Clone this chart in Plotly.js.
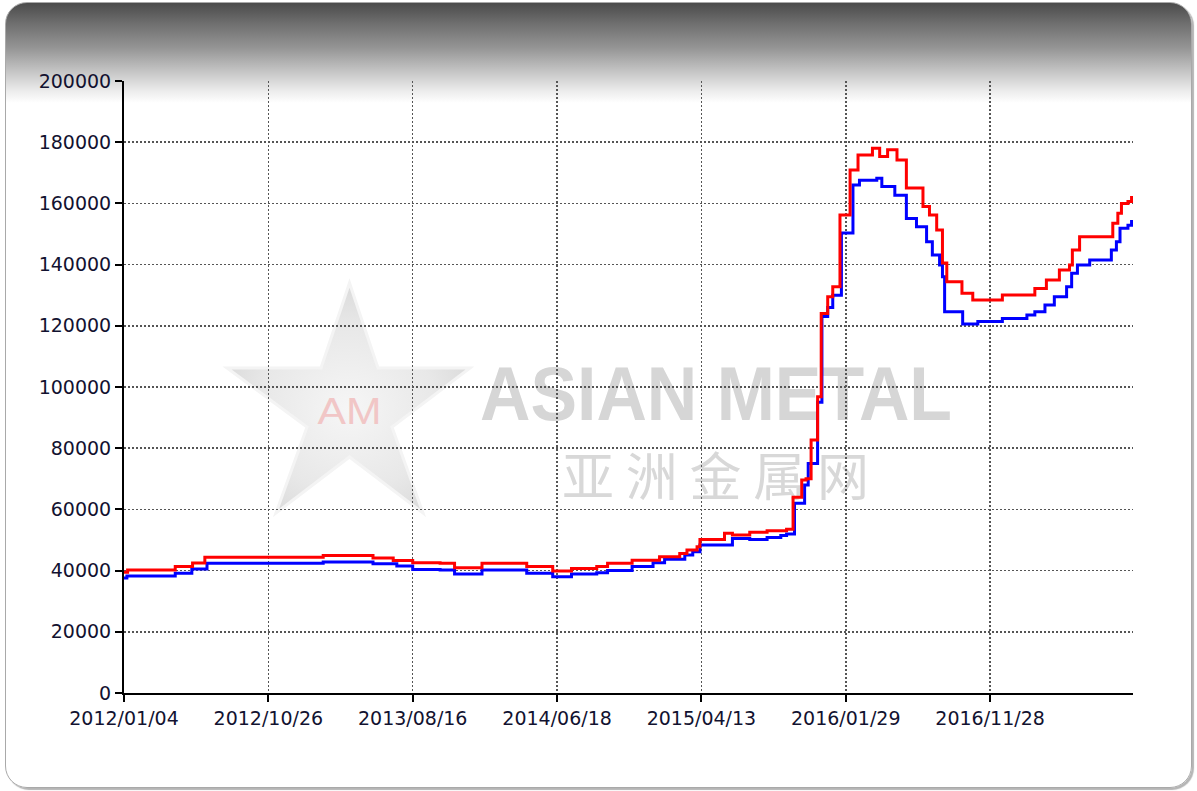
<!DOCTYPE html>
<html>
<head>
<meta charset="utf-8">
<script src="https://cdn.plot.ly/plotly-3.0.1.min.js"></script>
<style>
  html, body { margin:0; padding:0; background:#ffffff; width:1197px; height:791px; overflow:hidden; }
  #frame { position:absolute; left:5px; top:2px; width:1185px; height:784px;
    border:1px solid #a9a9a9; border-radius:22px;
    background:linear-gradient(to bottom, #4b4b4b 0px, #6e6e6e 20px, #959595 45px, #c4c4c4 68px, #ececec 88px, #ffffff 100px, #ffffff 100%);
    box-shadow: 2px 2px 1px #b5b5b5; }
  #wm { position:absolute; left:0; top:0; }
  #chart { position:absolute; left:0; top:0; width:1197px; height:791px; }
</style>
</head>
<body>
<div id="frame"></div>
<svg id="wm" width="1197" height="791" xmlns="http://www.w3.org/2000/svg">
  <defs>
    <radialGradient id="sg" cx="0.5" cy="0.55" r="0.6">
      <stop offset="0" stop-color="#f6f6f6"/>
      <stop offset="0.6" stop-color="#e8e8e8"/>
      <stop offset="1" stop-color="#d6d6d6"/>
    </radialGradient>
  </defs>
  <polygon points="349.5,283 378,368 470,368 392,427 423,513 349.5,457 276,513 307,427 227,368 321,368"
           fill="url(#sg)" stroke="#f4f4f4" stroke-width="3"/>
  <text x="349.5" y="424" text-anchor="middle" font-family="Liberation Sans, Arial" font-size="36" fill="#f1c6c6" textLength="64" lengthAdjust="spacingAndGlyphs">AM</text>
  <text x="480" y="420" font-family="Liberation Sans, Arial" font-weight="bold" font-size="76" fill="#d6d6d6" textLength="472" lengthAdjust="spacingAndGlyphs">ASIAN METAL</text>
  <text x="562" y="496" font-family="Noto Sans CJK SC" font-size="52" fill="#d8d8d8" textLength="307" lengthAdjust="spacing">亚洲金属网</text>
</svg>
<div id="chart"></div>
<script>
// x positions are trading-day indices (200 per labelled interval)
const tickIdx = [0, 200, 400, 600, 800, 1000, 1200];
const tickLabels = ['2012/01/04', '2012/10/26', '2013/08/16', '2014/06/18', '2015/04/13', '2016/01/29', '2016/11/28'];

const redX = [0,5,71,95,112,276,345,373,400,438,458,496,558,594,620,655,670,704,742,770,780,794,798,832,843,867,891,918,927,939,945,952,961,966,975,982,992,1006,1017,1037,1047,1058,1071,1084,1107,1116,1126,1134,1140,1161,1176,1217,1262,1278,1296,1310,1314,1324,1370,1377,1382,1391,1396];
const redY = [39500,40200,41300,42500,44400,44900,44100,43300,42600,42400,40900,42400,41300,39900,40700,41300,42400,43400,44500,45600,46700,47800,50200,52200,51600,52500,53000,53500,64000,69600,70000,82700,96800,124000,129500,132800,156200,170900,175800,178000,175300,177500,174200,165000,159000,156200,151300,140500,134400,130600,128400,130100,132200,135000,138200,139900,144800,149100,153500,156800,160000,160600,162400];

const blueX = [0,4,71,94,115,276,345,378,400,438,458,496,558,594,620,655,670,704,733,749,777,788,798,843,867,891,910,918,929,943,948,961,967,975,982,994,1010,1019,1043,1050,1068,1084,1098,1112,1120,1130,1134,1137,1162,1183,1217,1251,1262,1276,1289,1306,1313,1321,1338,1368,1375,1380,1391,1396];
const blueY = [37600,38200,39100,40500,42400,42800,42200,41500,40400,40200,38900,40200,39100,38000,38900,39300,40000,41300,42600,43700,45100,46200,48400,50500,50200,50800,51500,52000,62000,68000,75000,95000,123000,126000,130000,150300,166000,167600,168200,165500,162700,155100,152400,147500,143100,139900,136000,124600,120600,121400,122400,123500,124600,126800,129500,132800,137200,139900,141500,144800,147500,151900,152900,154600];

const tickFont = {family: 'DejaVu Sans, Verdana, sans-serif', size: 19, color: '#121230'};

const traces = [
  {x: blueX, y: blueY, type: 'scatter', mode: 'lines', line: {color: '#0000ff', width: 3, shape: 'hv'}, hoverinfo: 'skip'},
  {x: redX, y: redY, type: 'scatter', mode: 'lines', line: {color: '#ff0000', width: 3, shape: 'hv'}, hoverinfo: 'skip'}
];

const layout = {
  width: 1197, height: 791,
  margin: {l: 124, r: 64, t: 81, b: 98},
  paper_bgcolor: 'rgba(0,0,0,0)',
  plot_bgcolor: 'rgba(0,0,0,0)',
  showlegend: false,
  xaxis: {
    range: [0, 1398], tickmode: 'array', tickvals: tickIdx, ticktext: tickLabels,
    showline: true, linecolor: '#000', linewidth: 2,
    ticks: 'outside', ticklen: 7, tickwidth: 2, tickcolor: '#000',
    showgrid: true, gridcolor: '#555', gridwidth: 1.5, griddash: '2px,2px',
    zeroline: false, tickfont: tickFont, fixedrange: true
  },
  yaxis: {
    range: [0, 200000], dtick: 20000, tick0: 0, tickformat: 'd',
    showline: true, linecolor: '#000', linewidth: 2,
    ticks: 'outside', ticklen: 7, tickwidth: 2, tickcolor: '#000',
    showgrid: true, gridcolor: '#555', gridwidth: 1.5, griddash: '2px,2px',
    zeroline: false, tickfont: tickFont, fixedrange: true
  }
};

Plotly.newPlot('chart', traces, layout, {staticPlot: true, displayModeBar: false});
</script>
</body>
</html>
